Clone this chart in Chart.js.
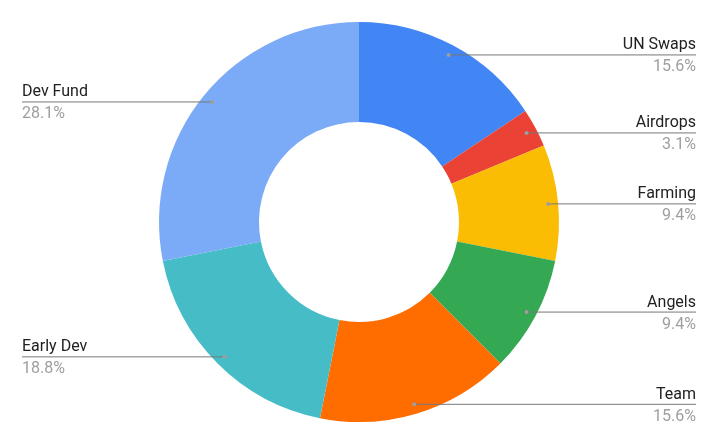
<!DOCTYPE html>
<html>
<head>
<meta charset="utf-8">
<script src="https://cdn.jsdelivr.net/npm/chart.js@4.4.0/dist/chart.umd.min.js"></script>
<style>
  html, body { margin: 0; padding: 0; background: #fff; }
  #wrap { width: 718px; height: 445px; }
</style>
</head>
<body>
<div id="wrap"><canvas id="allocation"></canvas></div>
<script>
var labels = ["UN Swaps", "Airdrops", "Farming", "Angels", "Team", "Early Dev", "Dev Fund"];
var values = [5, 1, 3, 3, 5, 6, 9];
var colors = ['#4285F4', '#EA4335', '#FBBC04', '#34A853', '#FF6D01', '#46BDC6', '#7BAAF7'];

// leader lines + two line labels outside the ring
var outsideLabels = {
    id: 'outsideLabels',
    afterDraw: function(chart) {
        var c = chart.ctx;
        var meta = chart.getDatasetMeta(0);
        var total = values.reduce(function(a, b) { return a + b; }, 0);
        var W = chart.width;
        meta.data.forEach(function(arc, i) {
            var mid = (arc.startAngle + arc.endAngle) / 2;
            var r = arc.outerRadius * 0.95;
            var px = arc.x + Math.cos(mid) * r;
            var py = arc.y + Math.sin(mid) * r;
            var right = Math.cos(mid) >= 0;
            var ex = right ? W - 22 : 22;

            c.save();
            c.strokeStyle = '#777777';
            c.lineWidth = 1;
            c.beginPath();
            c.moveTo(px, py + 0.5);
            c.lineTo(ex, py + 0.5);
            c.stroke();
            c.fillStyle = '#9e9e9e';
            c.beginPath();
            c.arc(px, py + 0.5, 2, 0, Math.PI * 2);
            c.fill();

            c.font = '16px Roboto';
            c.textAlign = right ? 'right' : 'left';
            c.textBaseline = 'alphabetic';
            c.fillStyle = '#212121';
            c.fillText(labels[i], ex, py - 5);
            c.fillStyle = '#9e9e9e';
            c.fillText((values[i] / total * 100).toFixed(1) + '%', ex, py + 17);
            c.restore();
        });
    }
};

var ctx = document.getElementById("allocation");
var allocationChart = new Chart(ctx, {
    type: 'doughnut',
    data: {
        labels: labels,
        datasets: [{
            data: values,
            backgroundColor: colors,
            borderWidth: 0
        }]
    },
    options: {
        responsive: true,
        maintainAspectRatio: false,
        animation: false,
        cutout: '50%',
        layout: { padding: { top: 22, bottom: 23 } },
        plugins: {
            legend: { display: false },
            tooltip: { enabled: false }
        }
    },
    plugins: [outsideLabels]
});
</script>
</body>
</html>
